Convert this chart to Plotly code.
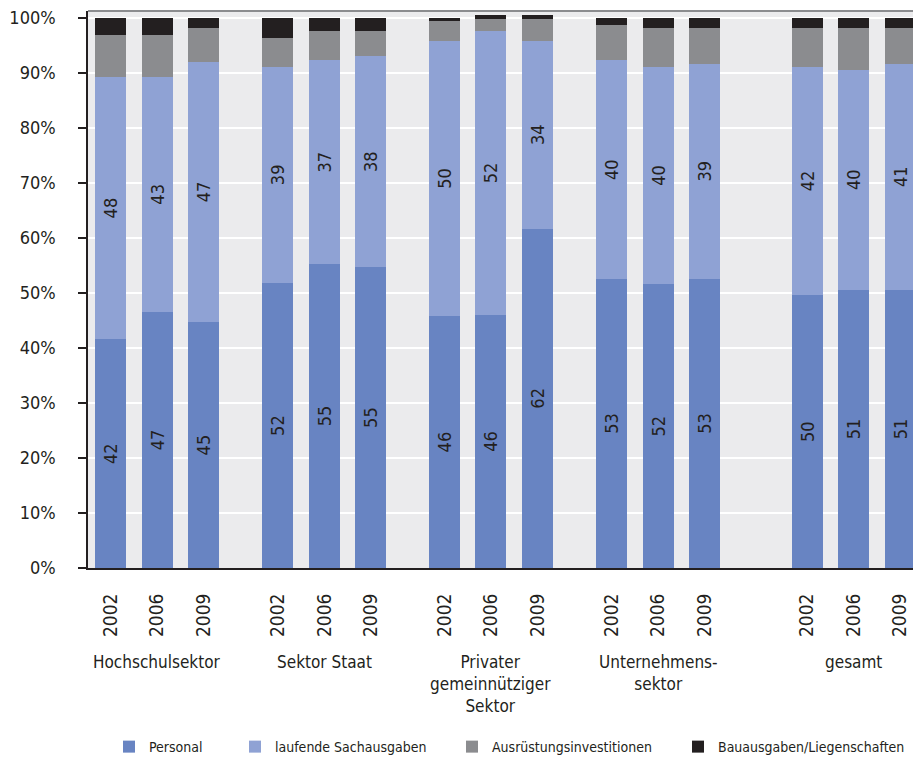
import plotly.graph_objects as go

years = ["2002", "2006", "2009"]
groups = ["Hochschulsektor", "Sektor Staat", "Privater<br>gemeinnütziger<br>Sektor", "Unternehmens-<br>sektor", "gesamt"]
group_starts = [0.0, 3.6, 7.18, 10.78, 14.98]

personal = [41.6, 46.6, 44.7, 51.8, 55.3, 54.7, 45.8, 46.0, 61.7, 52.6, 51.6, 52.6, 49.6, 50.6, 50.6]
laufende = [47.7, 42.7, 47.4, 39.4, 37.0, 38.4, 50.1, 51.7, 34.2, 39.7, 39.6, 39.1, 41.6, 40.0, 41.1]
ausruestung = [7.7, 7.7, 6.2, 5.2, 5.4, 4.6, 3.5, 2.2, 4.0, 6.5, 7.1, 6.6, 7.1, 7.7, 6.6]
bau = [3.0, 3.0, 1.7, 3.6, 2.3, 2.3, 0.7, 0.7, 0.7, 1.2, 1.7, 1.7, 1.7, 1.7, 1.7]

y_ticks = list(range(0, 101, 10))
y_ticklabels = [f"{v}%" for v in y_ticks]

series_names = ["Personal", "laufende Sachausgaben", "Ausrüstungsinvestitionen", "Bauausgaben/Liegenschaften"]
colors = ["#6884C2", "#8FA2D4", "#8B8C8F", "#231F20"]
legend_widths = [81, 172, 181, 190]

FONT = "DejaVu Sans Condensed, sans-serif"
TXT = "#231F20"

xpos = []
xlabels = []
for s in group_starts:
    for i, y in enumerate(years):
        xpos.append(s + i)
        xlabels.append(y)

fig = go.Figure()
for name, vals, col, labeled, lw in zip(series_names, [personal, laufende, ausruestung, bau], colors,
                                        [True, True, False, False], legend_widths):
    fig.add_trace(go.Bar(
        x=xpos, y=vals, name=name, marker=dict(color=col, line=dict(width=0)),
        width=0.667,
        text=[f"{v:.0f}" for v in vals] if labeled else None,
        textposition="inside" if labeled else "none",
        insidetextanchor="middle",
        textangle=-90,
        textfont=dict(family=FONT, size=18, color=TXT),
        legendwidth=lw,
        hoverinfo="skip",
    ))

for s, g in zip(group_starts, groups):
    fig.add_annotation(
        x=s + 1, y=0, xref="x", yref="paper", text=g, showarrow=False,
        yanchor="top", yshift=-82, align="center",
        font=dict(family=FONT, size=17, color=TXT),
    )

fig.add_shape(type="line", xref="paper", yref="paper", x0=0, x1=1, y0=1, y1=1,
              line=dict(color="#8B8C8F", width=2))

fig.update_layout(
    width=913, height=751,
    margin=dict(l=80, r=0, t=3, b=191, autoexpand=False),
    barmode="stack",
    plot_bgcolor="#EBEBED",
    paper_bgcolor="white",
    font=dict(family=FONT, size=18, color=TXT),
    showlegend=True,
    legend=dict(orientation="h", x=0.0252, xanchor="left", y=-0.3214, yanchor="middle",
                font=dict(family=FONT, size=14, color=TXT), traceorder="normal"),
    xaxis=dict(
        range=[-0.484, 17.43], tickvals=xpos, ticktext=xlabels, tickangle=-90,
        showgrid=False, zeroline=False, showline=True, linecolor=TXT, linewidth=2,
        ticks="", tickfont=dict(family=FONT, size=19, color=TXT), ticklabelstandoff=16,
    ),
    yaxis=dict(
        range=[0, 101.3], tickvals=y_ticks, ticktext=y_ticklabels,
        showgrid=True, gridcolor="white", gridwidth=2, zeroline=False,
        showline=True, linecolor=TXT, linewidth=1.5,
        ticks="outside", ticklen=8, tickcolor=TXT, tickwidth=1.5,
        tickfont=dict(family=FONT, size=18, color=TXT), ticklabelstandoff=19,
        ticklabeloverflow="allow",
    ),
)

fig.write_html("out.html")
